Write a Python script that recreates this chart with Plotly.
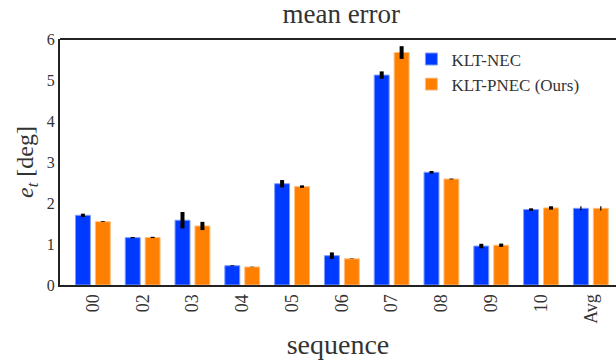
import plotly.graph_objects as go

categories = ["00", "02", "03", "04", "05", "06", "07", "08", "09", "10", "Avg"]
nec_mean = [1.70, 1.155, 1.58, 0.47, 2.47, 0.715, 5.12, 2.75, 0.95, 1.84, 1.87]
nec_err = [0.04, 0.015, 0.20, 0.01, 0.09, 0.08, 0.09, 0.03, 0.055, 0.03, 0.05]
pnec_mean = [1.545, 1.16, 1.44, 0.44, 2.40, 0.64, 5.67, 2.585, 0.97, 1.88, 1.87]
pnec_err = [0.01, 0.015, 0.10, 0.005, 0.03, 0.005, 0.155, 0.01, 0.04, 0.04, 0.05]

BLUE = "#0039ff"
ORANGE = "#ff7f00"
FONT = "Liberation Serif"
TXT = "#333333"

main_cats = categories[:-1]
avg_cat = categories[-1:]

fig = go.Figure()

def add(name, cats, means, errs, color, edge, offset, thick, showlegend):
    fig.add_trace(go.Bar(
        x=cats, y=means, name=name, showlegend=showlegend, legendgroup=name,
        marker=dict(color=color, line=dict(color=edge, width=1)),
        width=0.3, offset=offset,
        error_y=dict(type="data", array=errs, visible=True, color="black",
                     thickness=thick, width=0),
    ))

add("KLT-NEC", main_cats, nec_mean[:-1], nec_err[:-1], BLUE, "#7f9cff", -0.35, 4, True)
add("KLT-PNEC (Ours)", main_cats, pnec_mean[:-1], pnec_err[:-1], ORANGE, "#ffbf80", 0.05, 4, True)
add("KLT-NEC", avg_cat, nec_mean[-1:], nec_err[-1:], BLUE, "#7f9cff", -0.35, 1.2, False)
add("KLT-PNEC (Ours)", avg_cat, pnec_mean[-1:], pnec_err[-1:], ORANGE, "#ffbf80", 0.05, 1.2, False)

fig.update_layout(
    width=616, height=364,
    barmode="overlay",
    paper_bgcolor="white", plot_bgcolor="white",
    margin=dict(l=60, r=0, t=39, b=79),
    font=dict(family=FONT, color=TXT, size=15),
    title=dict(text="mean error", x=0.554, xanchor="center", y=0.963, yanchor="middle",
               font=dict(family=FONT, size=27, color=TXT)),
    legend=dict(x=0.632, y=0.99, xanchor="left", yanchor="top",
                bgcolor="rgba(0,0,0,0)", font=dict(family=FONT, size=17, color=TXT),
                itemwidth=30, tracegroupgap=0),
    xaxis=dict(
        categoryorder="array", categoryarray=categories,
        range=[-0.66, 10.505],
        showline=True, linecolor="#222222", linewidth=2,
        ticks="", tickangle=-90, showgrid=False, zeroline=False,
        tickfont=dict(family=FONT, size=18, color=TXT),
        title=dict(text="sequence", font=dict(family=FONT, size=28, color=TXT), standoff=12),
        mirror=False,
    ),
    yaxis=dict(
        range=[0, 6], dtick=1,
        showline=True, linecolor="#222222", linewidth=2,
        ticks="", showgrid=False, zeroline=False,
        tickfont=dict(family=FONT, size=16, color=TXT),
        title=dict(text="<i>e</i><sub><i>t</i></sub> [deg]",
                   font=dict(family=FONT, size=24, color=TXT), standoff=6),
    ),
)

# top spine
fig.add_shape(type="line", xref="paper", yref="paper", x0=0, x1=1, y0=1, y1=1,
              line=dict(color="#222222", width=2))

fig.write_html("out.html")
